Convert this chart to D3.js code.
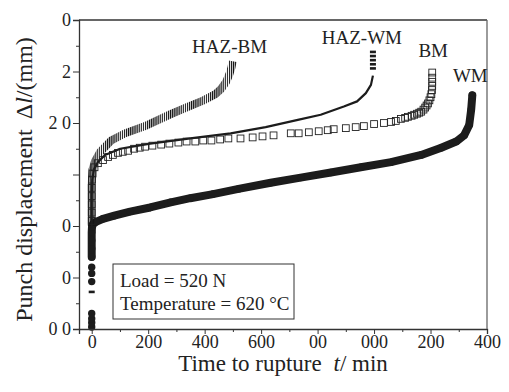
<!DOCTYPE html>
<html>
<head>
<meta charset="utf-8">
<script src="https://cdn.jsdelivr.net/npm/d3@7/dist/d3.min.js"></script>
<style>
  html, body { margin: 0; padding: 0; background: #fff; }
  text { font-family: "Liberation Serif", "Times New Roman", serif; fill: #222; }
</style>
</head>
<body>
<script>
// ---- data (time to rupture t / min, punch displacement / mm) ----
const xTickValues = [0, 200, 400, 600, 800, 1000, 1200, 1400];
const xTickLabels = ['0', '200', '400', '600', '00', '000', '200', '400'];
const yTickValues = [0, 0.5, 1.0, 1.5, 2.0, 2.5, 3.0];
const yTickLabels = ['0 0', '0', '0', '', '2 0', '2', '0'];

const hazBM = [[0, 1.0], [0, 1.2], [0, 1.4], [3, 1.55], [12, 1.63], [30, 1.72], [69, 1.83],
  [118, 1.90], [189, 1.97], [275, 2.08], [335, 2.15], [396, 2.22], [438, 2.28], [458, 2.33],
  [476, 2.40], [487, 2.47], [495, 2.54], [499, 2.60]];

const hazWMEarly = [[0, 0.36]];
const hazWM = [[0, 1.0], [0, 1.15], [0, 1.3], [2, 1.45], [8, 1.55], [22, 1.62], [47, 1.69],
  [101, 1.75], [207, 1.80], [349, 1.85], [492, 1.90], [616, 1.96], [730, 2.03], [811, 2.08],
  [893, 2.16], [940, 2.21], [971, 2.29], [989, 2.37], [996, 2.46]];
const hazWMTail = [[996, 2.53], [996, 2.57], [996, 2.61], [996, 2.65], [996, 2.69]];

const bm = [[0, 1.05], [0, 1.13], [0, 1.21], [0, 1.29], [0, 1.37], [1, 1.45], [3, 1.51], [10, 1.57],
  [22, 1.61], [40, 1.64], [58, 1.67], [75, 1.69], [93, 1.71], [110, 1.72], [129, 1.73], [150, 1.75],
  [170, 1.76], [189, 1.77], [215, 1.78], [246, 1.79], [275, 1.80], [307, 1.81], [336, 1.82],
  [367, 1.82], [395, 1.83], [424, 1.83], [455, 1.84], [484, 1.85], [527, 1.85], [570, 1.86],
  [605, 1.87], [644, 1.88], [705, 1.90], [733, 1.90], [769, 1.91], [804, 1.92], [836, 1.93],
  [857, 1.94], [900, 1.95], [935, 1.96], [964, 1.97], [1000, 1.99], [1035, 2.00], [1060, 2.01],
  [1077, 2.02], [1095, 2.04], [1110, 2.05], [1120, 2.06], [1133, 2.07], [1142, 2.08], [1152, 2.09],
  [1160, 2.10], [1167, 2.11], [1175, 2.13], [1181, 2.15], [1186, 2.17], [1191, 2.19], [1196, 2.22],
  [1200, 2.25], [1203, 2.28], [1205, 2.32], [1206, 2.36], [1206, 2.40], [1206, 2.44], [1206, 2.49]];

const wmEarly = [[0, 0.02], [0, 0.06], [0, 0.10], [0, 0.15], [0, 0.46], [0, 0.54], [0, 0.60]];
const wm = [[0, 0.70], [0, 0.78], [0, 0.86], [0, 0.94], [1, 0.99], [5, 1.02], [15, 1.04], [40, 1.07],
  [80, 1.10], [136, 1.14], [207, 1.18], [280, 1.23], [349, 1.27], [430, 1.31], [520, 1.36],
  [634, 1.42], [740, 1.47], [847, 1.52], [953, 1.57], [1060, 1.62], [1167, 1.69], [1238, 1.76],
  [1291, 1.82], [1319, 1.88], [1337, 1.98], [1344, 2.13], [1348, 2.27]];

const seriesLabels = ['HAZ-BM', 'HAZ-WM', 'BM', 'WM'];
const noteLines = ['Load = 520 N', 'Temperature = 620 °C'];

// ---- layout ----
const W = 509, H = 392;
const plotL = 79, plotR = 487, plotT = 20, plotB = 329;
const ink = '#1c1c1c';

const svg = d3.select('body').append('svg')
  .attr('width', W).attr('height', H);

const x = d3.scaleLinear().domain([-45, 1400]).range([plotL, plotR]);
const y = d3.scaleLinear().domain([0, 3.0]).range([plotB, plotT]);

const defs = svg.append('defs');
const stripe = defs.append('pattern')
  .attr('id', 'vstripe')
  .attr('patternUnits', 'userSpaceOnUse')
  .attr('width', 2.1).attr('height', 10);
stripe.append('rect').attr('x', 0).attr('y', 0).attr('width', 1.2).attr('height', 10).attr('fill', '#111');

const line = d3.line().x(d => x(d[0])).y(d => y(d[1]));

// WM: filled circles, dense enough to merge into a thick band
svg.append('path').datum(wm)
  .attr('d', line).attr('fill', 'none')
  .attr('stroke', ink).attr('stroke-width', 8)
  .attr('stroke-linejoin', 'round').attr('stroke-linecap', 'round');
svg.selectAll('.wm-dot').data(wmEarly.concat(wm)).join('circle')
  .attr('class', 'wm-dot')
  .attr('cx', d => x(d[0])).attr('cy', d => y(d[1]))
  .attr('r', 3.7).attr('fill', ink);

// HAZ-BM: vertical dashes
svg.append('path').datum(hazBM)
  .attr('d', line).attr('fill', 'none')
  .attr('stroke', 'url(#vstripe)').attr('stroke-width', 8);

// HAZ-WM: small horizontal dashes, dense enough to read as a thin line
svg.append('path').datum(hazWM)
  .attr('d', line).attr('fill', 'none')
  .attr('stroke', ink).attr('stroke-width', 2.2)
  .attr('stroke-linejoin', 'round');
svg.selectAll('.hazwm-dash').data(hazWMEarly.concat(hazWMTail)).join('rect')
  .attr('class', 'hazwm-dash')
  .attr('x', d => x(d[0]) - 3).attr('y', d => y(d[1]) - 1.3)
  .attr('width', 6).attr('height', 2.6).attr('fill', ink);

// BM: open squares
svg.selectAll('.bm-sq').data(bm).join('rect')
  .attr('class', 'bm-sq')
  .attr('x', d => x(d[0]) - 3.4).attr('y', d => y(d[1]) - 3.4)
  .attr('width', 6.8).attr('height', 6.8)
  .attr('fill', 'none').attr('stroke', '#222').attr('stroke-width', 0.9);

// ---- axes ----
const axisColor = '#333';
const xAxis = svg.append('g')
  .attr('transform', `translate(0,${plotB})`)
  .call(d3.axisBottom(x).tickValues(xTickValues).tickSize(5).tickPadding(1)
    .tickFormat((d, i) => xTickLabels[i]));
svg.append('g')
  .attr('transform', `translate(0,${plotB})`)
  .call(d3.axisBottom(x).tickValues(d3.range(100, 1400, 200)).tickSize(3).tickFormat(''))
  .select('.domain').remove();

const yAxis = svg.append('g')
  .attr('transform', `translate(${plotL},0)`)
  .call(d3.axisLeft(y).tickValues(yTickValues).tickSize(6).tickPadding(2)
    .tickFormat((d, i) => yTickLabels[i]));
svg.append('g')
  .attr('transform', `translate(${plotL},0)`)
  .call(d3.axisLeft(y).tickValues(d3.range(0.25, 3.0, 0.5)).tickSize(3).tickFormat(''))
  .select('.domain').remove();

svg.selectAll('.domain').attr('stroke', axisColor).attr('stroke-width', 1.3);
svg.selectAll('.tick line').attr('stroke', axisColor).attr('stroke-width', 1);
svg.selectAll('.tick text')
  .style('font-family', '"Liberation Serif", serif')
  .style('font-size', '18px').attr('fill', '#222');
yAxis.selectAll('.tick text').style('white-space', 'pre');

// frame: top and right
svg.append('line').attr('x1', plotL).attr('x2', plotR).attr('y1', plotT).attr('y2', plotT)
  .attr('stroke', axisColor).attr('stroke-width', 1.3);
svg.append('line').attr('x1', plotR).attr('x2', plotR).attr('y1', plotT).attr('y2', plotB)
  .attr('stroke', '#666').attr('stroke-width', 1.3);

// axis titles
const xTitle = svg.append('text')
  .attr('x', 283).attr('y', 371)
  .attr('text-anchor', 'middle')
  .style('font-size', '23px');
xTitle.append('tspan').text('Time to rupture ');
xTitle.append('tspan').attr('font-style', 'italic').attr('dx', 6).text('t');
xTitle.append('tspan').text('/ min');

const yTitle = svg.append('text')
  .attr('transform', `translate(32,${(plotT + plotB) / 2 + 5}) rotate(-90)`)
  .attr('text-anchor', 'middle')
  .style('font-size', '24px');
yTitle.append('tspan').text('Punch displacement ');
yTitle.append('tspan').attr('dx', 4).text('Δ');
yTitle.append('tspan').attr('font-style', 'italic').text('l');
yTitle.append('tspan').text('/(mm)');

// series labels, placed above the end of each curve
const ends = [hazBM[hazBM.length - 1], hazWMTail[hazWMTail.length - 1], bm[bm.length - 1], wm[wm.length - 1]];
const labelShift = [[-3, -8], [-11, -8], [1, -16], [-2, -13]];
svg.selectAll('.series-label').data(seriesLabels).join('text')
  .attr('class', 'series-label')
  .attr('x', (d, i) => x(ends[i][0]) + labelShift[i][0])
  .attr('y', (d, i) => y(ends[i][1]) + labelShift[i][1])
  .attr('text-anchor', 'middle')
  .style('font-size', '19px')
  .text(d => d);

// condition box
const box = svg.append('g').attr('transform', 'translate(113,264)');
box.append('rect').attr('width', 181).attr('height', 55)
  .attr('fill', '#fff').attr('stroke', '#333').attr('stroke-width', 1);
box.selectAll('text').data(noteLines).join('text')
  .attr('x', 7).attr('y', (d, i) => 23 + i * 23)
  .style('font-size', '19px')
  .text(d => d);
</script>
</body>
</html>
